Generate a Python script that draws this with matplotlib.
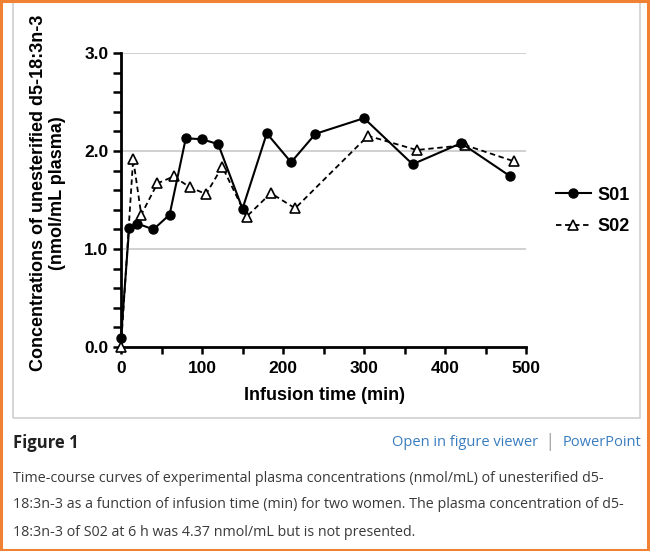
import matplotlib
matplotlib.use("Agg")
import matplotlib.pyplot as plt
from matplotlib.patches import Rectangle
from matplotlib.ticker import MultipleLocator

# data
s01_time = [0, 10, 20, 40, 60, 80, 100, 120, 150, 180, 210, 240, 300, 360, 420, 480]
s01_conc = [0.09, 1.21, 1.26, 1.20, 1.35, 2.13, 2.12, 2.07, 1.41, 2.18, 1.885, 2.175, 2.335, 1.865, 2.08, 1.745]

s02_time = [0, 15, 25, 45, 65, 85, 105, 125, 155, 185, 215, 305, 365, 425, 485]
s02_conc = [0.0, 1.92, 1.35, 1.67, 1.74, 1.63, 1.56, 1.84, 1.33, 1.57, 1.415, 2.155, 2.01, 2.06, 1.895]

xticks = [0, 100, 200, 300, 400, 500]
yticks = [0.0, 1.0, 2.0, 3.0]

caption_lines = [
    "Time-course curves of experimental plasma concentrations (nmol/mL) of unesterified d5-",
    "18:3n-3 as a function of infusion time (min) for two women. The plasma concentration of d5-",
    "18:3n-3 of S02 at 6 h was 4.37 nmol/mL but is not presented.",
]

W, H = 650, 551
fig = plt.figure(figsize=(W / 100, H / 100), dpi=100)
fig.patch.set_facecolor("white")

def fx(px):
    return px / W

def fy(py):
    return 1 - py / H

chart_font = "Liberation Sans"
text_font = "Open Sans"

ax = fig.add_axes([fx(121), fy(347), fx(526) - fx(121), fy(53) - fy(347)])

ax.plot(s01_time, s01_conc, color="black", lw=1.5, marker="o", ms=6.5,
        mfc="black", mec="black", label="S01", clip_on=False, zorder=4)
ax.plot(s02_time, s02_conc, color="black", lw=1.3, ls=(0, (3, 2)), marker="^", ms=7.5,
        mfc="white", mec="black", mew=1.2, label="S02", clip_on=False, zorder=3)

ax.set_xlim(0, 500)
ax.set_ylim(0, 3.0)
ax.set_xticks(xticks)
ax.xaxis.set_minor_locator(MultipleLocator(50))
ax.set_yticks(yticks)
ax.yaxis.set_minor_locator(MultipleLocator(0.2))
ax.set_yticklabels([f"{v:.1f}" for v in yticks])
for v in yticks[1:]:
    ax.axhline(v, color="#c8c8c8", lw=1.2, zorder=0)

for side in ["top", "right"]:
    ax.spines[side].set_visible(False)
for side in ["left", "bottom"]:
    ax.spines[side].set_linewidth(2)

ax.tick_params(which="both", direction="out", width=1.8, length=6, colors="black")
ax.tick_params(axis="x", which="both", length=5, pad=5)
ax.tick_params(axis="y", which="both", pad=3)
for lab in ax.get_xticklabels() + ax.get_yticklabels():
    lab.set_fontfamily(chart_font)
    lab.set_fontweight("bold")
    lab.set_fontsize(12.5)

leg = ax.legend(loc="center left", bbox_to_anchor=(fx(540), fy(211)), bbox_transform=fig.transFigure,
                frameon=False, handlelength=1.9, handletextpad=0.4, labelspacing=0.8,
                prop={"family": chart_font, "weight": "bold", "size": 13})

fig.text(fx(39), fy(193), "Concentrations of unesterified d5-18:3n-3", rotation=90,
         ha="center", va="center", family=chart_font, weight="bold", fontsize=13)
fig.text(fx(58), fy(193), "(nmol/mL plasma)", rotation=90,
         ha="center", va="center", family=chart_font, weight="bold", fontsize=13)
fig.text(fx(325), fy(396), "Infusion time (min)", ha="center", va="center",
         family=chart_font, weight="bold", fontsize=13)

# gray image frame and orange outer border
fig.patches.append(Rectangle((fx(13), fy(418)), fx(640) - fx(13), fy(-5) - fy(418),
                             transform=fig.transFigure, fill=False, ec="#cfcfcf", lw=1.2))
fig.patches.append(Rectangle((fx(1), fy(550)), fx(648) - fx(1), fy(1) - fy(550),
                             transform=fig.transFigure, fill=False, ec="#f08032", lw=2.2))

fig.text(fx(13), fy(443), "Figure 1", ha="left", va="center", family=text_font,
         weight="bold", fontsize=12, color="#222222")
fig.text(fx(538), fy(443), "Open in figure viewer", ha="right", va="center",
         family=text_font, fontsize=10.5, color="#3a7dbf")
fig.text(fx(550), fy(442), "|", ha="center", va="center", family=text_font,
         fontsize=14, color="#aaaaaa")
fig.text(fx(641), fy(443), "PowerPoint", ha="right", va="center",
         family=text_font, fontsize=10.5, color="#3a7dbf")

for i, line in enumerate(caption_lines):
    fig.text(fx(13), fy(478 + 27 * i), line, ha="left", va="center", family=text_font,
             fontsize=10.3, color="#3a3a3a")

fig.savefig("out.png", dpi=100)
